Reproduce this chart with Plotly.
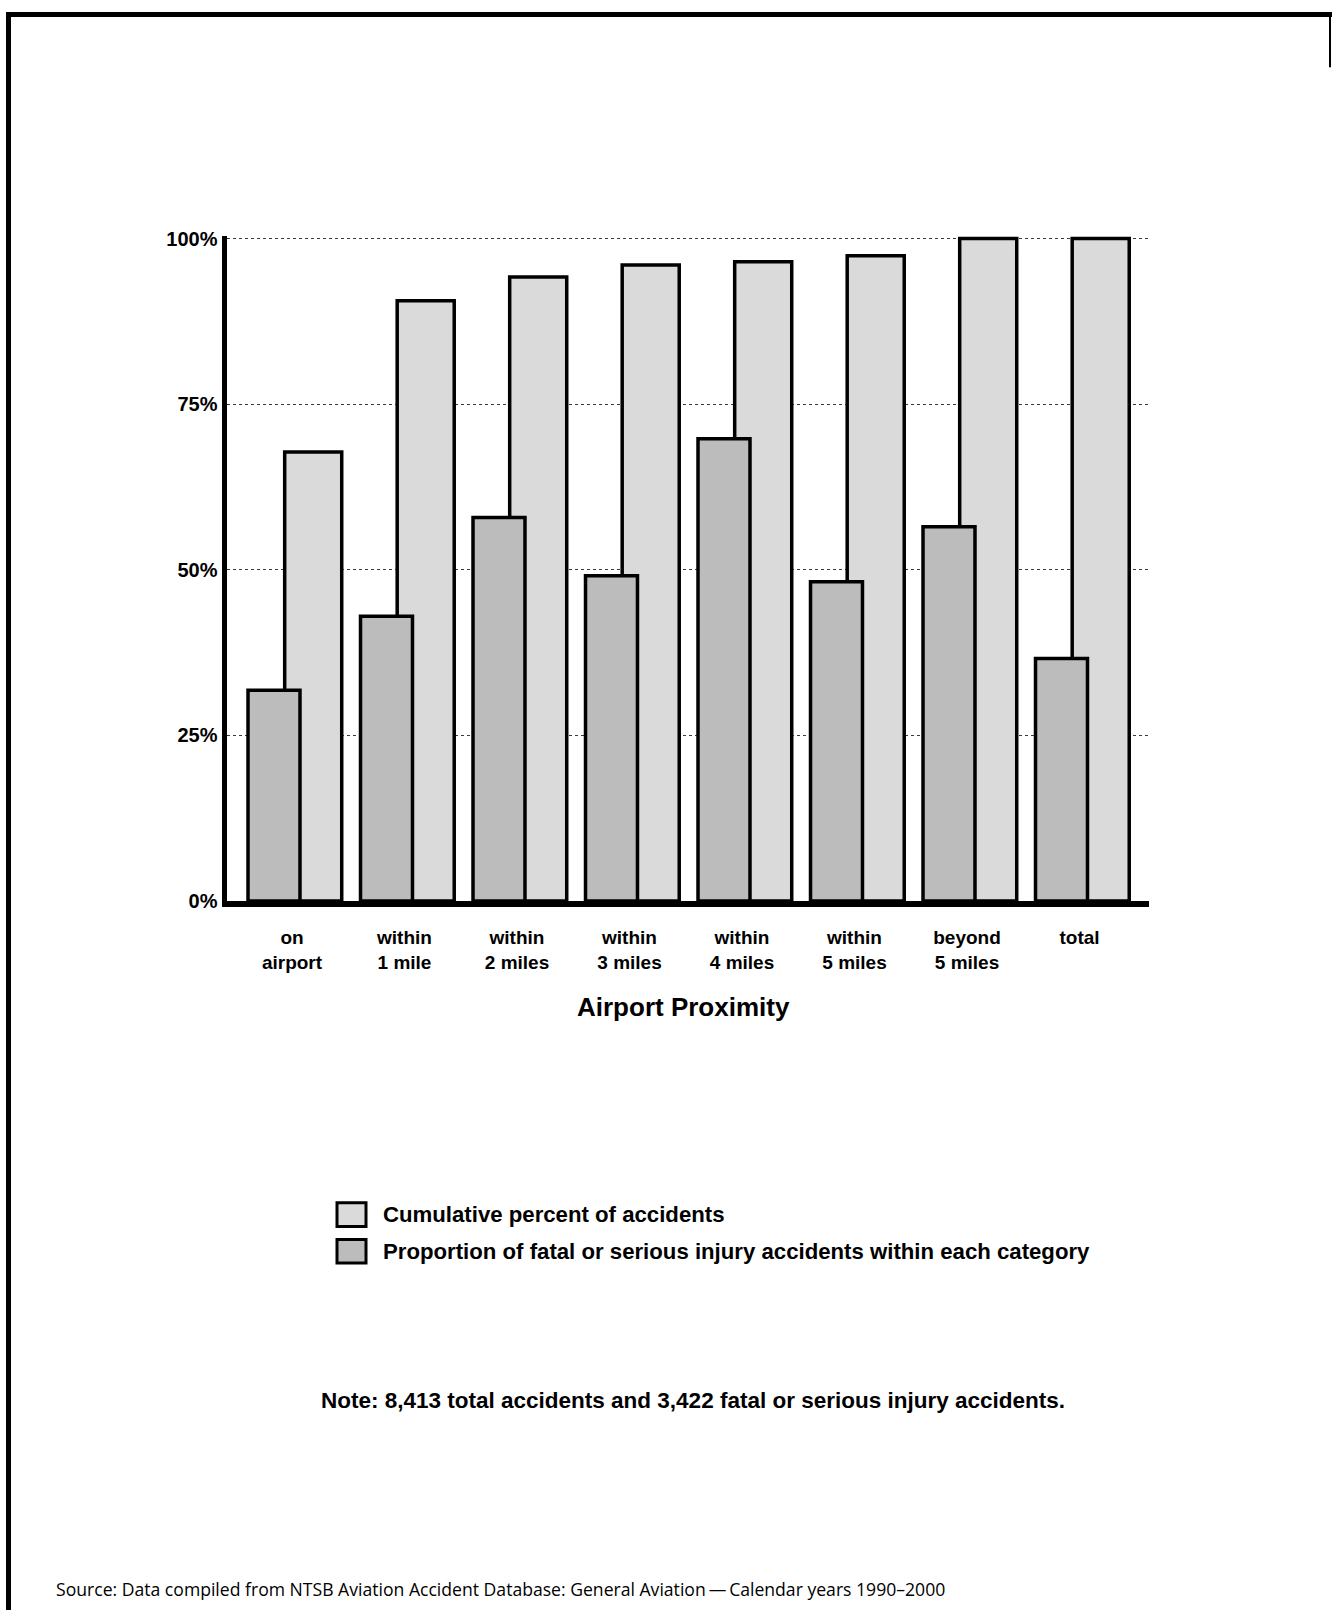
import plotly.graph_objects as go

# ---- data ----
categories = ["on<br>airport", "within<br>1 mile", "within<br>2 miles", "within<br>3 miles",
              "within<br>4 miles", "within<br>5 miles", "beyond<br>5 miles", "total"]
cumulative_pct = [67.8, 90.6, 94.2, 96.0, 96.5, 97.4, 100.0, 100.0]
fatal_serious_pct = [31.8, 43.0, 57.9, 49.1, 69.8, 48.2, 56.5, 36.6]
y_tick_vals = [0, 25, 50, 75, 100]
y_tick_text = ["0%", "25%", "50%", "75%", "100%"]

W, H = 1332, 1621
def px(x):
    return x / W
def py(y):
    return 1 - y / H

LIGHT = "#dadada"
DARK = "#bcbcbc"
FONT = "Liberation Sans, Arial, sans-serif"

# pixel geometry of the plot area
X_LINE_W = 6
Y_LINE_W = 5
y_bottom_px = 906.6 - X_LINE_W / 2          # axis line is drawn just outside the domain
PX_PER_PCT = (y_bottom_px - 233.3) / 100.0
y_max = 100.4
y_top_px = y_bottom_px - PX_PER_PCT * y_max

PX_PER_CAT = 112.5
CAT0_PX = 292.0
x_left_px = 224 + Y_LINE_W / 2
x_right_px = 1149
x_min = (x_left_px - CAT0_PX) / PX_PER_CAT
x_max = (x_right_px - CAT0_PX) / PX_PER_CAT

fig = go.Figure()
fig.add_trace(go.Bar(
    x=categories, y=cumulative_pct, name="Cumulative percent of accidents",
    width=0.507, offset=-0.065,
    marker=dict(color=LIGHT, line=dict(color="black", width=3.5)),
))
fig.add_trace(go.Bar(
    x=categories, y=fatal_serious_pct,
    name="Proportion of fatal or serious injury accidents within each category",
    width=0.462, offset=-0.391,
    marker=dict(color=DARK, line=dict(color="black", width=3.5)),
))

fig.update_layout(
    width=W, height=H, autosize=False,
    margin=dict(l=0, r=0, t=0, b=0),
    paper_bgcolor="white", plot_bgcolor="white",
    barmode="overlay", showlegend=False,
    font=dict(family=FONT, color="black"),
    xaxis=dict(
        domain=[px(x_left_px), px(x_right_px)], range=[x_min, x_max],
        showline=True, linewidth=X_LINE_W, linecolor="black",
        showgrid=False, ticks="", zeroline=False,
        tickfont=dict(family=FONT, size=19, color="black", weight="bold"),
        ticklabelstandoff=14,
    ),
    yaxis=dict(
        domain=[py(y_bottom_px), py(y_top_px)], range=[0, y_max],
        tickvals=y_tick_vals, ticktext=y_tick_text,
        showline=True, linewidth=Y_LINE_W, linecolor="black",
        showgrid=True, gridcolor="#3a3a3a", gridwidth=1, griddash="dot",
        zeroline=False, ticks="",
        tickfont=dict(family=FONT, size=20, color="black", weight="bold"),
        ticklabelstandoff=0,
    ),
)

annotations = [
    dict(text="<b>Airport Proximity</b>", x=px(683), y=py(1011), xref="paper", yref="paper",
         showarrow=False, font=dict(size=26, family=FONT, color="black"),
         xanchor="center", yanchor="middle"),
    dict(text="<b>Cumulative percent of accidents</b>", x=px(381), y=py(1221),
         xref="paper", yref="paper", showarrow=False,
         font=dict(size=22.2, family=FONT, color="black"), xanchor="left", yanchor="middle"),
    dict(text="<b>Proportion of fatal or serious injury accidents within each category</b>",
         x=px(381), y=py(1258), xref="paper", yref="paper", showarrow=False,
         font=dict(size=22.2, family=FONT, color="black"), xanchor="left", yanchor="middle"),
    dict(text="<b>Note: 8,413 total accidents and 3,422 fatal or serious injury accidents.</b>",
         x=px(319), y=py(1409), xref="paper", yref="paper", showarrow=False,
         font=dict(size=22.5, family=FONT, color="black"), xanchor="left", yanchor="middle"),
    dict(text="Source: Data compiled from NTSB Aviation Accident Database: General Aviation\u2009\u2014\u2009Calendar years 1990\u20132000",
         x=px(54), y=py(1600), xref="paper", yref="paper", showarrow=False,
         font=dict(size=17.6, family="Open Sans, sans-serif", color="black"),
         xanchor="left", yanchor="middle"),
]
fig.update_layout(annotations=annotations)

shapes = [
    # legend boxes
    dict(type="rect", xref="paper", yref="paper", x0=px(337), x1=px(366), y0=py(1209), y1=py(1233),
         fillcolor=LIGHT, line=dict(color="black", width=3)),
    dict(type="rect", xref="paper", yref="paper", x0=px(337), x1=px(366), y0=py(1246), y1=py(1270),
         fillcolor=DARK, line=dict(color="black", width=3)),
    # page frame
    dict(type="line", xref="paper", yref="paper", x0=px(6), x1=px(1332), y0=py(6.5), y1=py(6.5),
         line=dict(color="black", width=5)),
    dict(type="line", xref="paper", yref="paper", x0=px(8.5), x1=px(8.5), y0=py(4), y1=py(1621),
         line=dict(color="black", width=5)),
    dict(type="line", xref="paper", yref="paper", x0=px(1330), x1=px(1330), y0=py(4), y1=py(60),
         line=dict(color="black", width=2)),
]
fig.update_layout(shapes=shapes)

fig.write_html(
    "out.html",
    config={"displayModeBar": False},
    post_script="document.body.style.margin='0';document.body.style.padding='0';"
                "document.documentElement.style.overflow='hidden';",
)
